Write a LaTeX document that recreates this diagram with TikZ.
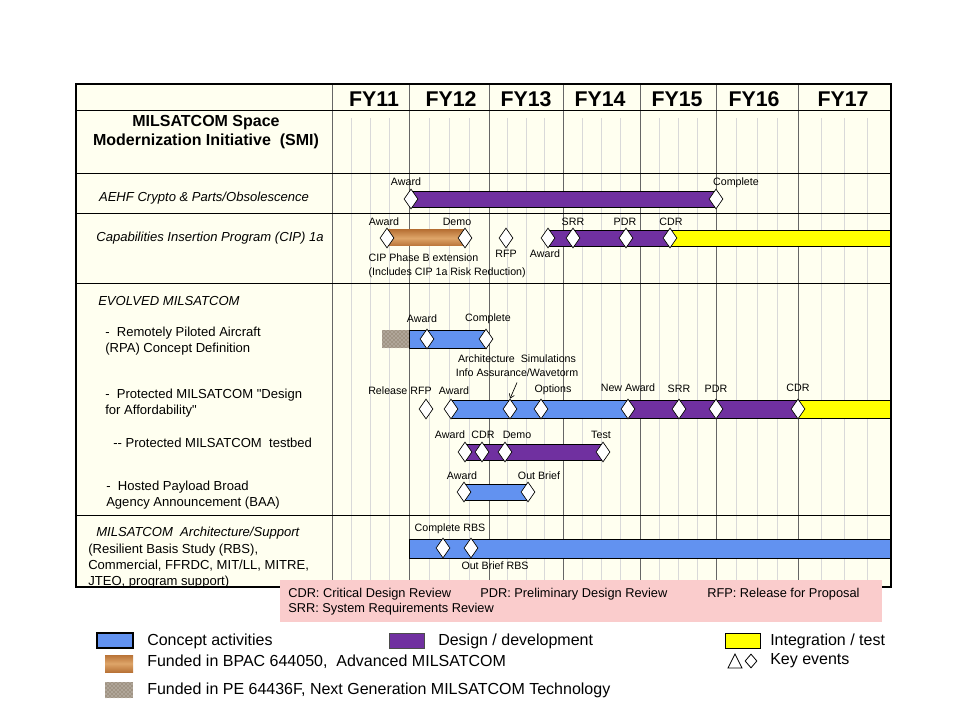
\documentclass[tikz,border=0pt]{standalone}
\usepackage{fontspec}
\setmainfont{Liberation Sans}[Ligatures=TeXOff]
\usetikzlibrary{shapes.geometric,arrows.meta,patterns}
\definecolor{chartbg}{RGB}{255,255,240}
\definecolor{concept}{RGB}{98,146,240}
\definecolor{design}{RGB}{112,48,160}
\definecolor{integ}{RGB}{255,255,0}
\definecolor{notepink}{RGB}{250,204,204}
\definecolor{woodlight}{RGB}{222,165,105}
\definecolor{wooddark}{RGB}{185,115,55}
\definecolor{stone}{RGB}{160,148,132}
\newcommand\rowfont{\fontsize{9.8}{12}\selectfont}
\newcommand\evfont{\fontsize{8}{10.5}\selectfont}

\begin{document}
\begin{tikzpicture}[x=0.75pt,y=-0.75pt,
    event/.style={diamond,draw=black,fill=white,line width=0.5pt,inner sep=0pt,
        minimum width=10.5pt,minimum height=15pt},
    evlabel/.style={font=\evfont,inner sep=1pt},
    rowtext/.style={font=\rowfont,align=left,inner sep=0pt},
    yearlabel/.style={font=\fontsize{16}{18}\selectfont\bfseries},
    majorgrid/.style={draw=black!60,line width=0.5pt},
    minorgrid/.style={draw=black!15,line width=0.4pt},
    conceptbar/.style={draw=black,line width=0.5pt,fill=concept},
    designbar/.style={draw=black,line width=0.5pt,fill=design},
    integbar/.style={draw=black,line width=0.5pt,fill=integ},
    woodbar/.style={top color=wooddark,bottom color=wooddark,middle color=woodlight},
    stonebar/.style={fill=stone,postaction={pattern=crosshatch dots,pattern color=white!75!stone}},
    legendtext/.style={font=\fontsize{12}{14}\selectfont,anchor=west,inner sep=0pt},
    notetext/.style={font=\fontsize{9.6}{12}\selectfont,anchor=west,inner sep=0pt}]

    \useasboundingbox (0,0) rectangle (960,720);

    % chart body
    \fill[chartbg] (76,84) rectangle (891,587);
    \foreach \a/\b in {332/409,409/489,489/563,563/640,640/716,716/798,798/891}
        \foreach \k in {1,2,3}
            \draw[minorgrid] ({\a+\k*(\b-\a)/4},118) -- ({\a+\k*(\b-\a)/4},587);
    \foreach \x in {332,409,489,563,640,716,798}
        \draw[majorgrid] (\x,84) -- (\x,587);
    \foreach \y in {110,173,213,283,515}
        \draw[line width=0.6pt] (76,\y) -- (891,\y);

    % years
    \node[yearlabel] (fy11) at (374,99) {FY11};
    \node[yearlabel] (fy12) at (451,99) {FY12};
    \node[yearlabel] (fy13) at (526,99) {FY13};
    \node[yearlabel] (fy14) at (600,99) {FY14};
    \node[yearlabel] (fy15) at (677,99) {FY15};
    \node[yearlabel] (fy16) at (754,99) {FY16};
    \node[yearlabel] (fy17) at (843,99) {FY17};

    % left column
    \node[font=\fontsize{12}{14.5}\selectfont\bfseries,align=center] (smititle) at (206,132)
        {MILSATCOM Space\\Modernization Initiative\ \ (SMI)};
    \node[rowtext,font=\rowfont\itshape] (aehftext) at (204,198) {AEHF Crypto \& Parts/Obsolescence};
    \node[rowtext,font=\rowfont\itshape] (ciptext) at (210,238) {Capabilities Insertion\ Program\ (CIP)\ 1a};
    \node[rowtext,font=\rowfont\itshape,anchor=west] (evolvedtext) at (98,301) {EVOLVED MILSATCOM};
    \node[rowtext,anchor=west] (rpatext) at (105,341.5) {-\ \ Remotely Piloted Aircraft\\(RPA) Concept Definition};
    \node[rowtext,anchor=west] (dfatext) at (105,403) {-\ \ Protected MILSATCOM "Design\\for Affordability"};
    \node[rowtext,anchor=west] (testbedtext) at (113,443) {-- Protected MILSATCOM\ \ testbed};
    \node[rowtext,anchor=west] (hostedtext) at (106,495) {-\ \ Hosted Payload Broad\\Agency Announcement (BAA)};
    \node[rowtext,font=\rowfont\itshape,anchor=west] (archtitle) at (96,533) {MILSATCOM\ \ Architecture/Support};
    \node[rowtext,anchor=west] (archtext) at (88,566)
        {(Resilient Basis Study (RBS),\\Commercial, FFRDC, MIT/LL, MITRE,\\JTEO, program support)};

    % AEHF
    \draw[designbar] (411,191) rectangle (716,207);
    \node[event] (aehfaward) at (411,199) {};
    \node[event] (aehfdone) at (716,199) {};
    \node[evlabel] (aehfawardl) at (406,182) {Award};
    \node[evlabel] (aehfdonel) at (736,183) {Complete};

    % CIP 1a
    \shade[woodbar] (387,230) rectangle (465,246);
    \draw[designbar] (548,230) rectangle (670,246);
    \draw[integbar] (670,230) rectangle (891,246);
    \node[event] (cipaward) at (387,238) {};
    \node[event] (cipdemo) at (465,238) {};
    \node[event] (ciprfp) at (506,238) {};
    \node[event] (cipaward2) at (548,238) {};
    \node[event] (cipsrr) at (573,238) {};
    \node[event] (cippdr) at (626,238) {};
    \node[event] (cipcdr) at (670,238) {};
    \node[evlabel] (cipawardl) at (384,222) {Award};
    \node[evlabel] (cipdemol) at (457,222) {Demo};
    \node[evlabel] (ciprfpl) at (506,254) {RFP};
    \node[evlabel] (cipaward2l) at (545,254) {Award};
    \node[evlabel] (cipsrrl) at (573,222) {SRR};
    \node[evlabel] (cippdrl) at (625,222) {PDR};
    \node[evlabel] (cipcdrl) at (671,222) {CDR};
    \node[evlabel,align=left,anchor=west] (cipnote) at (367,265.5)
        {CIP Phase B extension\\(Includes CIP 1a Risk Reduction)};

    % RPA
    \path[stonebar] (382,330) rectangle (409,348);
    \draw[conceptbar] (409,330) rectangle (486,348);
    \node[event] (rpaaward) at (427,339) {};
    \node[event] (rpadone) at (486,339) {};
    \node[evlabel] (rpaawardl) at (422,319) {Award};
    \node[evlabel] (rpadonel) at (488,319) {Complete};

    % Design for Affordability
    \draw[conceptbar] (451,400) rectangle (628,418);
    \draw[designbar] (628,400) rectangle (798,418);
    \draw[integbar] (798,400) rectangle (891,418);
    \node[event] (dfarfp) at (426,409) {};
    \node[event] (dfaaward) at (451,409) {};
    \node[event] (dfaarch) at (510,409) {};
    \node[event] (dfaoptions) at (541,409) {};
    \node[event] (dfanewaward) at (628,409) {};
    \node[event] (dfasrr) at (679,409) {};
    \node[event] (dfapdr) at (716,409) {};
    \node[event] (dfacdr) at (798,409) {};
    \node[evlabel] (dfarfpl) at (400,391) {Release RFP};
    \node[evlabel] (dfaawardl) at (454,391) {Award};
    \node[evlabel] (archnote) at (517,367) {\begin{tabular}{@{}c@{}}Architecture\ \ Simulations\\Info Assurance/Wavetorm\end{tabular}};
    \node[evlabel] (dfaoptionsl) at (553,390) {Options};
    \node[evlabel] (dfanewawardl) at (628,388) {New Award};
    \node[evlabel] (dfasrrl) at (679,389) {SRR};
    \node[evlabel] (dfapdrl) at (716,389) {PDR};
    \node[evlabel] (dfacdrl) at (798,388) {CDR};
    \draw[-{Straight Barb[length=3pt,width=4pt]},line width=0.5pt] (archnote.south) -- (dfaarch.north);

    % testbed
    \draw[designbar] (465,444) rectangle (603,460);
    \node[event] (tbaward) at (465,452) {};
    \node[event] (tbcdr) at (482,452) {};
    \node[event] (tbdemo) at (505,452) {};
    \node[event] (tbtest) at (603,452) {};
    \node[evlabel] (tbawardl) at (450,435) {Award};
    \node[evlabel] (tbcdrl) at (483,435) {CDR};
    \node[evlabel] (tbdemol) at (517,435) {Demo};
    \node[evlabel] (tbtestl) at (601,435) {Test};

    % hosted payload
    \draw[conceptbar] (464,484) rectangle (528,500);
    \node[event] (hpaward) at (464,492) {};
    \node[event] (hpbrief) at (528,492) {};
    \node[evlabel] (hpawardl) at (462,476) {Award};
    \node[evlabel] (hpbriefl) at (539,476) {Out Brief};

    % architecture / support
    \draw[conceptbar] (409,539) rectangle (891,558);
    \node[event] (rbsdone) at (443,548) {};
    \node[event] (rbsbrief) at (471,548) {};
    \node[evlabel] (rbsdonel) at (450,529) {Complete RBS};
    \node[evlabel] (rbsbriefl) at (495,566) {Out Brief RBS};

    % frame
    \draw[line width=1.6pt] (76,84) rectangle (891,587);

    % acronyms
    \fill[notepink] (280,580) rectangle (882,622);
    \node[notetext] (cdrnote) at (288,594) {CDR: Critical Design Review};
    \node[notetext] (pdrnote) at (480,594) {PDR: Preliminary Design Review};
    \node[notetext] (rfpnote) at (707,594) {RFP: Release for Proposal};
    \node[notetext] (srrnote) at (288,609) {SRR: System Requirements Review};

    % legend
    \draw[conceptbar,line width=0.8pt] (97,633) rectangle (133,648);
    \node[legendtext] (conceptkey) at (147,641) {Concept activities};
    \draw[designbar,draw=black!70] (389,633) rectangle (424,648);
    \node[legendtext] (designkey) at (438,641) {Design / development};
    \draw[integbar] (725,633) rectangle (760,648);
    \node[legendtext] (integkey) at (770,641) {Integration / test};
    \shade[woodbar] (105,655) rectangle (133,672);
    \node[legendtext] (woodkey) at (147,662) {Funded in BPAC 644050,\ \ Advanced MILSATCOM};
    \path[stonebar] (105,682) rectangle (133,698);
    \node[legendtext] (stonekey) at (147,690) {Funded in PE 64436F, Next Generation MILSATCOM Technology};
    \draw[line width=0.6pt] (728,668) -- (742,668) -- (735,654) -- cycle;
    \node[event,minimum width=9pt,minimum height=10.5pt,line width=0.6pt] (diamondkey) at (751,661) {};
    \node[legendtext] (eventkey) at (770,661) {Key events};
\end{tikzpicture}
\end{document}
